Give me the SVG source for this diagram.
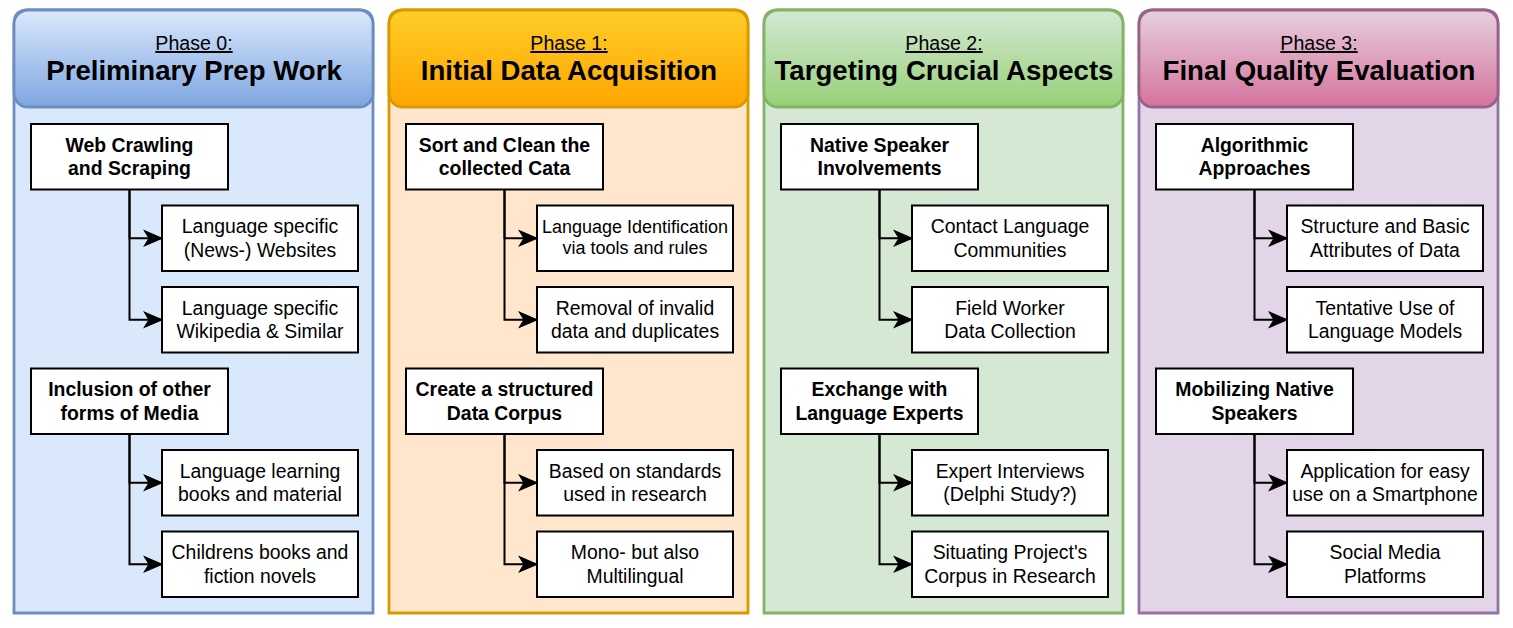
<svg xmlns="http://www.w3.org/2000/svg" width="1513" height="628" viewBox="0 0 1513 628">
<style>
text{font-family:"Liberation Sans",Arial,Helvetica,sans-serif;fill:#000;text-anchor:middle}
.phase{font-size:19.6px;text-decoration:underline}
.title{font-size:27.6px;font-weight:bold}
.mt{font-size:19.4px;font-weight:bold}
.st{font-size:19.4px}
.sm{font-size:18px}
.box{fill:#fff;stroke:#000;stroke-width:2}
.conn path{fill:none;stroke:#000;stroke-width:2;marker-end:url(#arr)}
.body{stroke-width:2.8}
.hdr{stroke-width:2.8}
</style>
<defs>
<linearGradient id="g0" x1="0" y1="0" x2="0" y2="1"><stop offset="0" stop-color="#dae8fc"/><stop offset="1" stop-color="#7ea6e0"/></linearGradient>
<linearGradient id="g1" x1="0" y1="0" x2="0" y2="1"><stop offset="0" stop-color="#ffcd28"/><stop offset="1" stop-color="#ffa500"/></linearGradient>
<linearGradient id="g2" x1="0" y1="0" x2="0" y2="1"><stop offset="0" stop-color="#d5e8d4"/><stop offset="1" stop-color="#97d077"/></linearGradient>
<linearGradient id="g3" x1="0" y1="0" x2="0" y2="1"><stop offset="0" stop-color="#e6d0de"/><stop offset="1" stop-color="#d5739d"/></linearGradient>
<marker id="arr" markerUnits="userSpaceOnUse" markerWidth="20" markerHeight="20" viewBox="-16 -8 17 16" refX="0" refY="0" orient="auto">
<path d="M0,0 L-15,-6.5 L-11,0 L-15,6.5 Z" fill="#000" stroke="#000" stroke-width="1"/>
</marker>
</defs>

<g id="phase0">
<path class="body" d="M14,613 V24 Q14,10 28,10 H359 Q373,10 373,24 V613 Z" fill="#dae8fc" stroke="#6c8ebf"/>
<rect class="hdr" x="14" y="10" width="359" height="97" rx="14" fill="url(#g0)" stroke="#6c8ebf"/>
<text class="phase" x="194" y="50">Phase 0:</text>
<text class="title" x="194" y="80">Preliminary Prep Work</text>
</g>
<g id="phase1">
<path class="body" d="M389,613 V24 Q389,10 403,10 H734 Q748,10 748,24 V613 Z" fill="#ffe6cc" stroke="#d79b00"/>
<rect class="hdr" x="389" y="10" width="359" height="97" rx="14" fill="url(#g1)" stroke="#d79b00"/>
<text class="phase" x="569" y="50">Phase 1:</text>
<text class="title" x="569" y="80">Initial Data Acquisition</text>
</g>
<g id="phase2">
<path class="body" d="M764,613 V24 Q764,10 778,10 H1109 Q1123,10 1123,24 V613 Z" fill="#d5e8d4" stroke="#82b366"/>
<rect class="hdr" x="764" y="10" width="359" height="97" rx="14" fill="url(#g2)" stroke="#82b366"/>
<text class="phase" x="944" y="50">Phase 2:</text>
<text class="title" x="944" y="80">Targeting Crucial Aspects</text>
</g>
<g id="phase3">
<path class="body" d="M1139,613 V24 Q1139,10 1153,10 H1484 Q1498,10 1498,24 V613 Z" fill="#e1d5e7" stroke="#9673a6"/>
<rect class="hdr" x="1139" y="10" width="359" height="97" rx="14" fill="url(#g3)" stroke="#996185"/>
<text class="phase" x="1319" y="50">Phase 3:</text>
<text class="title" x="1319" y="80">Final Quality Evaluation</text>
</g>

<g id="connectors" class="conn">
<path d="M129.5,189.5 V238.25 H162"/>
<path d="M129.5,189.5 V319.75 H162"/>
<path d="M129.5,434 V482.75 H162"/>
<path d="M129.5,434 V564.25 H162"/>
<path d="M504.5,189.5 V238.25 H537"/>
<path d="M504.5,189.5 V319.75 H537"/>
<path d="M504.5,434 V482.75 H537"/>
<path d="M504.5,434 V564.25 H537"/>
<path d="M879.5,189.5 V238.25 H912"/>
<path d="M879.5,189.5 V319.75 H912"/>
<path d="M879.5,434 V482.75 H912"/>
<path d="M879.5,434 V564.25 H912"/>
<path d="M1254.5,189.5 V238.25 H1287"/>
<path d="M1254.5,189.5 V319.75 H1287"/>
<path d="M1254.5,434 V482.75 H1287"/>
<path d="M1254.5,434 V564.25 H1287"/>
</g>

<!-- Phase 0 nodes -->
<g id="p0m1"><rect class="box" x="31" y="124" width="197" height="65.5"/><text class="mt" x="129.5" y="151.8">Web Crawling</text><text class="mt" x="129.5" y="175.1">and Scraping</text></g>
<g id="p0s1"><rect class="box" x="162" y="205.5" width="196" height="65.5"/><text class="st" x="260" y="233.3">Language specific</text><text class="st" x="260" y="256.6">(News-) Websites</text></g>
<g id="p0s2"><rect class="box" x="162" y="287" width="196" height="65.5"/><text class="st" x="260" y="314.8">Language specific</text><text class="st" x="260" y="338.1">Wikipedia &amp; Similar</text></g>
<g id="p0m2"><rect class="box" x="31" y="368.5" width="197" height="65.5"/><text class="mt" x="129.5" y="396.3">Inclusion of other</text><text class="mt" x="129.5" y="419.6">forms of Media</text></g>
<g id="p0s3"><rect class="box" x="162" y="450" width="196" height="65.5"/><text class="st" x="260" y="477.8">Language learning</text><text class="st" x="260" y="501.1">books and material</text></g>
<g id="p0s4"><rect class="box" x="162" y="531.5" width="196" height="65.5"/><text class="st" x="260" y="559.3">Childrens books and</text><text class="st" x="260" y="582.6">fiction novels</text></g>

<!-- Phase 1 nodes -->
<g id="p1m1"><rect class="box" x="406" y="124" width="197" height="65.5"/><text class="mt" x="504.5" y="151.8">Sort and Clean the</text><text class="mt" x="504.5" y="175.1">collected Cata</text></g>
<g id="p1s1"><rect class="box" x="537" y="205.5" width="196" height="65.5"/><text class="sm" x="635" y="232.8">Language Identification</text><text class="sm" x="635" y="254.4">via tools and rules</text></g>
<g id="p1s2"><rect class="box" x="537" y="287" width="196" height="65.5"/><text class="st" x="635" y="314.8">Removal of invalid</text><text class="st" x="635" y="338.1">data and duplicates</text></g>
<g id="p1m2"><rect class="box" x="406" y="368.5" width="197" height="65.5"/><text class="mt" x="504.5" y="396.3">Create a structured</text><text class="mt" x="504.5" y="419.6">Data Corpus</text></g>
<g id="p1s3"><rect class="box" x="537" y="450" width="196" height="65.5"/><text class="st" x="635" y="477.8">Based on standards</text><text class="st" x="635" y="501.1">used in research</text></g>
<g id="p1s4"><rect class="box" x="537" y="531.5" width="196" height="65.5"/><text class="st" x="635" y="559.3">Mono- but also</text><text class="st" x="635" y="582.6">Multilingual</text></g>

<!-- Phase 2 nodes -->
<g id="p2m1"><rect class="box" x="781" y="124" width="197" height="65.5"/><text class="mt" x="879.5" y="151.8">Native Speaker</text><text class="mt" x="879.5" y="175.1">Involvements</text></g>
<g id="p2s1"><rect class="box" x="912" y="205.5" width="196" height="65.5"/><text class="st" x="1010" y="233.3">Contact Language</text><text class="st" x="1010" y="256.6">Communities</text></g>
<g id="p2s2"><rect class="box" x="912" y="287" width="196" height="65.5"/><text class="st" x="1010" y="314.8">Field Worker</text><text class="st" x="1010" y="338.1">Data Collection</text></g>
<g id="p2m2"><rect class="box" x="781" y="368.5" width="197" height="65.5"/><text class="mt" x="879.5" y="396.3">Exchange with</text><text class="mt" x="879.5" y="419.6">Language Experts</text></g>
<g id="p2s3"><rect class="box" x="912" y="450" width="196" height="65.5"/><text class="st" x="1010" y="477.8">Expert Interviews</text><text class="st" x="1010" y="501.1">(Delphi Study?)</text></g>
<g id="p2s4"><rect class="box" x="912" y="531.5" width="196" height="65.5"/><text class="st" x="1010" y="559.3">Situating Project's</text><text class="st" x="1010" y="582.6">Corpus in Research</text></g>

<!-- Phase 3 nodes -->
<g id="p3m1"><rect class="box" x="1156" y="124" width="197" height="65.5"/><text class="mt" x="1254.5" y="151.8">Algorithmic</text><text class="mt" x="1254.5" y="175.1">Approaches</text></g>
<g id="p3s1"><rect class="box" x="1287" y="205.5" width="196" height="65.5"/><text class="st" x="1385" y="233.3">Structure and Basic</text><text class="st" x="1385" y="256.6">Attributes of Data</text></g>
<g id="p3s2"><rect class="box" x="1287" y="287" width="196" height="65.5"/><text class="st" x="1385" y="314.8">Tentative Use of</text><text class="st" x="1385" y="338.1">Language Models</text></g>
<g id="p3m2"><rect class="box" x="1156" y="368.5" width="197" height="65.5"/><text class="mt" x="1254.5" y="396.3">Mobilizing Native</text><text class="mt" x="1254.5" y="419.6">Speakers</text></g>
<g id="p3s3"><rect class="box" x="1287" y="450" width="196" height="65.5"/><text class="st" x="1385" y="477.8">Application for easy</text><text class="st" x="1385" y="501.1">use on a Smartphone</text></g>
<g id="p3s4"><rect class="box" x="1287" y="531.5" width="196" height="65.5"/><text class="st" x="1385" y="559.3">Social Media</text><text class="st" x="1385" y="582.6">Platforms</text></g>
</svg>
